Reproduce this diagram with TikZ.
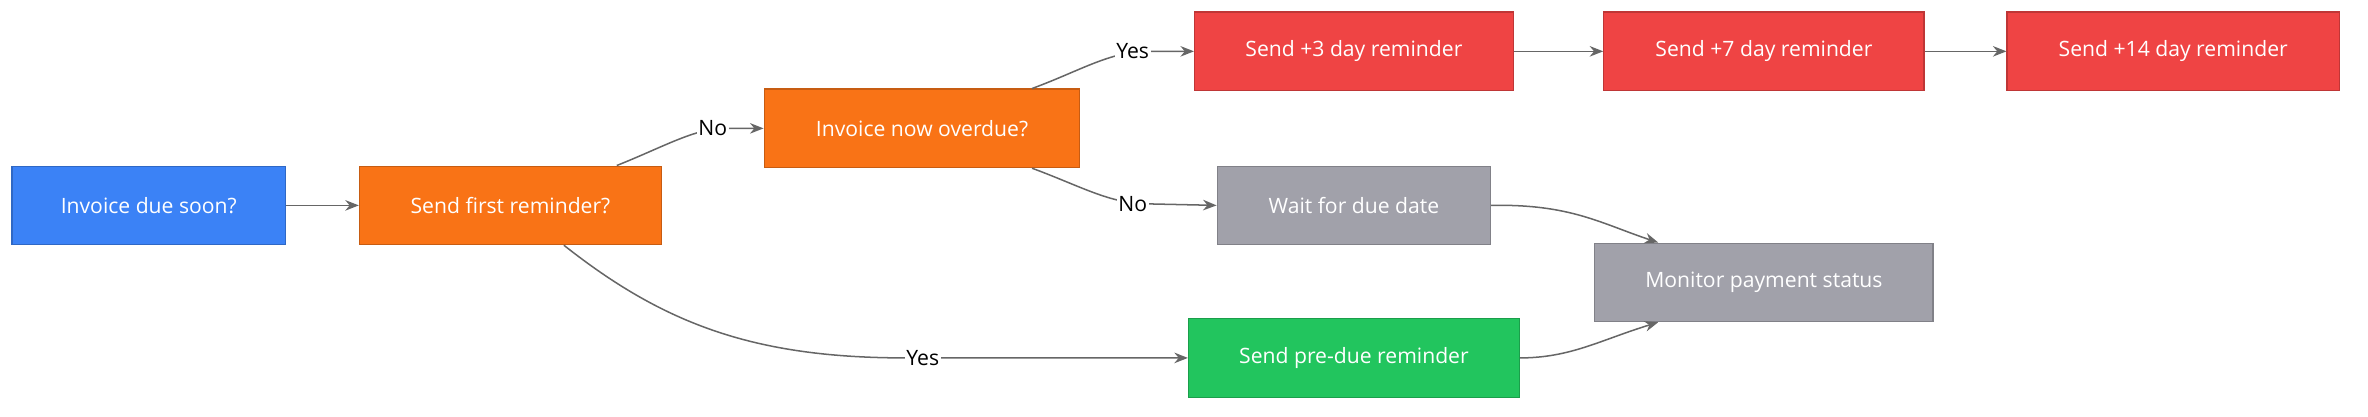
\documentclass[tikz,border=0pt]{standalone}
\usepackage{fontspec}
\setmainfont{Open Sans}
\usetikzlibrary{arrows.meta}
\definecolor{cblue}{HTML}{3B82F6}
\definecolor{corange}{HTML}{F97316}
\definecolor{cred}{HTML}{EF4444}
\definecolor{cgray}{HTML}{A1A1AA}
\definecolor{cgreen}{HTML}{22C55E}
\begin{document}
\begin{tikzpicture}[x=1pt,y=-1pt,
 box/.style={draw=#1!80!black,fill=#1,text=white,font=\fontsize{14}{16}\selectfont,inner sep=0pt,line width=0.8pt},
 edge/.style={draw=black!60,line width=1pt,-{Stealth[length=9pt,width=7pt]}},
 lab/.style={font=\fontsize{14}{16}\selectfont,fill=white,inner sep=1pt}]
\useasboundingbox (0,0) rectangle (1568,275.5);
\node[box=cblue,minimum width=181pt,minimum height=52pt] (a) at (98.5,136) {Invoice due soon?};
\node[box=corange,minimum width=200pt,minimum height=52pt] (b) at (338,136) {Send first reminder?};
\node[box=corange,minimum width=209pt,minimum height=52pt] (c) at (610.5,85) {Invoice now overdue?};
\node[box=cred,minimum width=211pt,minimum height=52pt] (d) at (896.5,34) {Send +3 day reminder};
\node[box=cred,minimum width=212pt,minimum height=52pt] (e) at (1168,34) {Send +7 day reminder};
\node[box=cred,minimum width=220pt,minimum height=52pt] (f) at (1439,34) {Send +14 day reminder};
\node[box=cgray,minimum width=181pt,minimum height=52pt] (w) at (896.5,136) {Wait for due date};
\node[box=cgray,minimum width=224pt,minimum height=52pt] (m) at (1168,187) {Monitor payment status};
\node[box=cgreen,minimum width=219pt,minimum height=52pt] (p) at (896.5,237) {Send pre-due reminder};
\draw[edge] (a) -- (b);
\draw[edge] (d) -- (e);
\draw[edge] (e) -- (f);
\draw[edge] (b.north east)++(-30,0) .. controls (440,97) and (460,85) .. (480,85) -- (c.west);
\node[lab] at (472,85) {No};
\draw[edge] (c.north east)++(-32,0) .. controls (715,47) and (735,34) .. (760,34) -- (d.west);
\node[lab] at (750,34) {Yes};
\draw[edge] (c.south east)++(-32,0) .. controls (715,123) and (735,135) .. (760,135) -- (w.west);
\node[lab] at (750,135) {No};
\draw[edge] (b.south east)++(-65,0) .. controls (440,215) and (500,237) .. (600,237) -- (p.west);
\node[lab] at (611,237) {Yes};
\draw[edge] (w.east) .. controls (1040,135) and (1060,148) .. ([xshift=-70pt]m.north);
\draw[edge] (p.east) .. controls (1040,237) and (1060,225) .. ([xshift=-70pt]m.south);
\end{tikzpicture}
\end{document}
